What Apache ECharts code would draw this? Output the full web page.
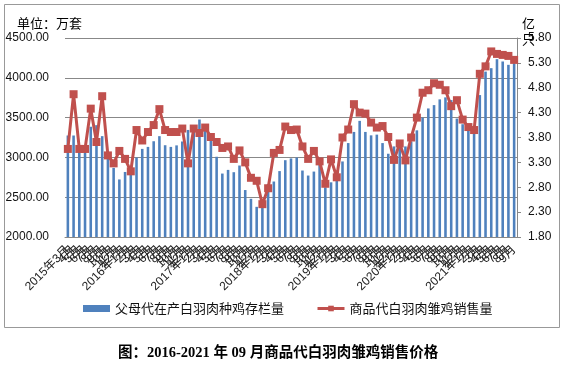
<!DOCTYPE html>
<html><head><meta charset="utf-8">
<script src="https://cdn.jsdelivr.net/npm/echarts@6/dist/echarts.min.js"></script>
<style>html,body{margin:0;padding:0;background:#fff}#c{width:564px;height:365px}</style>
</head><body><div id="c"></div>
<script>
const months = [
'2015年3月','2015年4月','2015年5月','2015年6月','2015年7月','2015年8月','2015年9月','2015年10月','2015年11月','2015年12月',
'2016年1月','2016年2月','2016年3月','2016年4月','2016年5月','2016年6月','2016年7月','2016年8月','2016年9月','2016年10月','2016年11月','2016年12月',
'2017年1月','2017年2月','2017年3月','2017年4月','2017年5月','2017年6月','2017年7月','2017年8月','2017年9月','2017年10月','2017年11月','2017年12月',
'2018年1月','2018年2月','2018年3月','2018年4月','2018年5月','2018年6月','2018年7月','2018年8月','2018年9月','2018年10月','2018年11月','2018年12月',
'2019年1月','2019年2月','2019年3月','2019年4月','2019年5月','2019年6月','2019年7月','2019年8月','2019年9月','2019年10月','2019年11月','2019年12月',
'2020年1月','2020年2月','2020年3月','2020年4月','2020年5月','2020年6月','2020年7月','2020年8月','2020年9月','2020年10月','2020年11月','2020年12月',
'2021年1月','2021年2月','2021年3月','2021年4月','2021年5月','2021年6月','2021年7月','2021年8月','2021年9月'
];
// 父母代在产白羽肉种鸡存栏量 (万套)
const parentStock = [
3275,3275,3090,3150,3385,3405,3267,3015,2868,2723,
2817,2840,2998,3107,3132,3203,3267,3153,3132,3151,
3200,3345,3340,3476,3404,3302,3008,2797,2843,2814,
2898,2590,2480,2379,2380,2665,2697,2828,2965,2987,
2999,2835,2772,2822,2919,2624,2687,2814,2949,3180,
3320,3459,3320,3277,3286,3180,3046,3138,3130,3138,
3200,3340,3500,3615,3657,3729,3754,3720,3488,3417,
3341,3299,3783,4078,4121,4234,4205,4163,4184
];
// 商品代白羽肉雏鸡销售量 (亿只)
const chickSales = [
3.57,4.67,3.57,3.57,4.38,3.71,4.63,3.44,3.28,3.53,
3.37,3.12,3.95,3.74,3.91,4.05,4.37,3.95,3.91,3.91,
3.98,3.28,3.98,3.89,4.00,3.81,3.71,3.59,3.62,3.37,
3.54,3.30,2.99,2.93,2.46,2.78,3.49,3.55,4.02,3.95,
3.96,3.62,3.37,3.53,3.32,2.87,3.36,3.00,3.80,3.96,
4.47,4.30,4.28,4.10,4.00,4.03,3.81,3.35,3.68,3.34,
3.80,4.20,4.70,4.75,4.89,4.86,4.75,4.43,4.55,4.16,
4.01,3.95,5.08,5.23,5.53,5.48,5.46,5.44,5.36
];
const seriesNames = ['父母代在产白羽肉种鸡存栏量','商品代白羽肉雏鸡销售量'];
const leftAxis = {min:2000, max:4500, interval:500};
const rightAxis = {min:1.8, max:5.8, interval:0.5};
const titleText = '图：2016-2021 年 09 月商品代白羽肉雏鸡销售价格';

const chart = echarts.init(document.getElementById('c'), null, {renderer:'canvas'});
chart.setOption({
  animation:false,
  backgroundColor:'#fff',
  textStyle:{fontFamily:'Liberation Sans, Noto Sans CJK SC'},
  title:{text:titleText, left:113, top:341, textStyle:{fontSize:14.5, fontWeight:'bold', color:'#000', fontFamily:'Liberation Serif, Noto Sans CJK SC'}},
  grid:{left:65, right:47, top:38, bottom:128},
  legend:{left:78, top:297, itemGap:32, itemWidth:27, itemHeight:7,
    textStyle:{fontSize:13, color:'#111', fontFamily:'Noto Sans CJK SC'},
    data:[{name:seriesNames[0], icon:'rect'},{name:seriesNames[1], lineStyle:{width:3}}]},
  xAxis:{type:'category', data:months,
    axisLine:{lineStyle:{color:'#888'}}, axisTick:{show:false},
    axisLabel:{interval:0, rotate:45, fontSize:12, color:'#222', margin:11,
      formatter:(v,i)=> (i===0 || /年1月$/.test(v)) ? v : v.split('年')[1]}},
  yAxis:[
    {type:'value', min:leftAxis.min, max:leftAxis.max, interval:leftAxis.interval,
     axisLine:{show:false}, axisTick:{show:false},
     splitLine:{lineStyle:{color:'#888', width:1}},
     axisLabel:{formatter:v=>v.toFixed(2), fontSize:12, color:'#111', margin:16}},
    {type:'value', position:'right', min:rightAxis.min, max:rightAxis.max, interval:rightAxis.interval,
     axisLine:{show:true, lineStyle:{color:'#888'}},
     axisTick:{show:true, length:4, lineStyle:{color:'#888'}},
     splitLine:{show:false},
     axisLabel:{formatter:v=>v.toFixed(2), fontSize:12, color:'#111', margin:11}}
  ],
  series:[
    {type:'bar', name:seriesNames[0], data:parentStock, barWidth:'45%', itemStyle:{color:'#4F81BD'}},
    {type:'line', name:seriesNames[1], yAxisIndex:1, data:chickSales, symbol:'rect', symbolSize:8,
     lineStyle:{color:'#C0504D', width:3}, itemStyle:{color:'#C0504D'}}
  ],
  graphic:[
    {type:'rect', shape:{x:4.5, y:4.5, width:555, height:323}, style:{fill:'none', stroke:'#999', lineWidth:1}, silent:true, z:-1},
    {type:'text', left:17, top:17, style:{text:'单位：万套', font:'13px "Noto Sans CJK SC"', fill:'#000'}},
    {type:'text', left:522, top:17, style:{text:'亿', font:'13px "Noto Sans CJK SC"', fill:'#000'}},
    {type:'text', left:522, top:33, style:{text:'只', font:'13px "Noto Sans CJK SC"', fill:'#000'}}
  ]
});
</script></body></html>
